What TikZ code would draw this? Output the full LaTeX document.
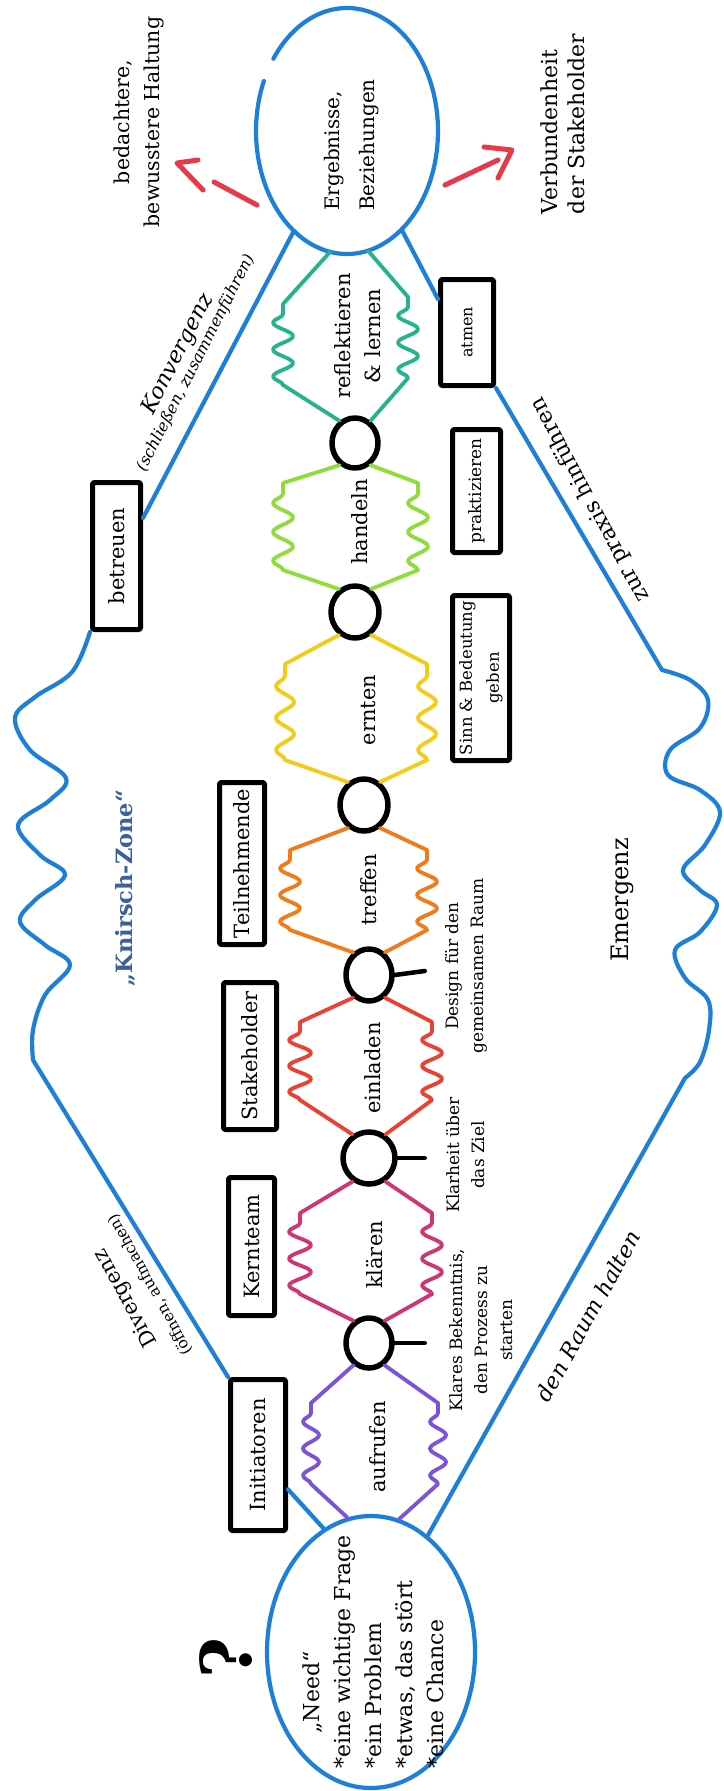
\documentclass[tikz,border=0pt]{standalone}
\usepackage{fontspec}
\setmainfont{DejaVu Serif}
\usetikzlibrary{shapes.geometric,decorations.pathmorphing,calc}
\definecolor{penblue}{HTML}{1E7FD8}
\definecolor{zoneblue}{HTML}{3D5F9C}
\definecolor{cpurple}{HTML}{7B52D9}
\definecolor{cmagenta}{HTML}{CE3572}
\definecolor{cred}{HTML}{EA4130}
\definecolor{corange}{HTML}{F27A18}
\definecolor{cyellow}{HTML}{F4CB17}
\definecolor{cgreen}{HTML}{8FDC3A}
\definecolor{cteal}{HTML}{27B28F}
\definecolor{arrowred}{HTML}{E8394A}
\newcommand{\fsz}[2]{\fontsize{#1}{#2}\selectfont}
\begin{document}
\begin{tikzpicture}[x=1pt,y=-1pt,line cap=round,line join=round,
  pen/.style={draw=penblue,line width=4.2pt},
  box/.style={draw=black,line width=5pt,rounded corners=1.5pt,inner sep=0pt},
  ring/.style={ellipse,draw=black,line width=5.5pt,inner sep=0pt},
  wave/.style={draw=#1,line width=3.8pt},
  sq/.style 2 args={decoration={snake,amplitude=#1,segment length=#2}},
  up/.style={rotate=90,inner sep=0pt},
  tick/.style={draw=black,line width=4.5pt},
  redpen/.style={draw=arrowred,line width=5pt},
  font=\fsz{21}{25}]
\fill[white] (0,0) rectangle (723,1791);
\useasboundingbox (0,0) rectangle (723,1791);

% ---------- end points of the process ----------
\node[ellipse,minimum width=182pt,minimum height=246pt,inner sep=0pt] (out) at (347,131) {};
\draw[pen] plot[domain=216:564,samples=150,variable=\t] ({347+91*cos(\t)},{131+123*sin(\t)});
\node[up,align=left,font=\fsz{20}{35}] (outtxt) at (352,145) {Ergebnisse,\\Beziehungen};

\node[ellipse,draw=penblue,line width=4.2pt,minimum width=208pt,minimum height=272pt,inner sep=0pt] (need) at (371,1652) {};
\node[up,align=left,font=\fsz{22}{31}] (needtxt) at (373,1652)
  {\hspace*{1.6em}„Need“\\{*}eine wichtige Frage\\{*}ein Problem\\{*}etwas, das stört\\{*}eine Chance};
\node[up,font=\bfseries\fsz{70}{70}] (q) at (226,1658) {?};

% ---------- outcomes ----------
\node[up,align=center,font=\fsz{20.5}{30}] (haltung) at (139,122) {bedachtere,\\bewusstere Haltung};
\node[up,align=left,font=\fsz{22}{27}] (verb) at (563,124) {Verbundenheit\\der Stakeholder};
\coordinate (latail) at (257,205);
\coordinate (la1) at (214,182);
\coordinate (la2) at (203,190);
\coordinate (latip) at (177,163);
\coordinate (la3) at (198,160);
\draw[redpen] (latail) -- (la1);
\draw[redpen] (la2) -- (latip) -- (la3);
\coordinate (ratail) at (445,185);
\coordinate (ra1) at (498,160);
\coordinate (ra2) at (484,147);
\coordinate (ratip) at (512,150);
\coordinate (ra3) at (498,178);
\draw[redpen] (ratail) -- (ra1);
\draw[redpen] (ra2) -- (ratip) -- (ra3);

% ---------- stations ----------
\node[ring,minimum width=46pt,minimum height=50pt] (c1) at (369,1343) {};
\node[ring,minimum width=52pt,minimum height=52pt] (c2) at (369,1158) {};
\node[ring,minimum width=46pt,minimum height=52pt] (c3) at (369,975) {};
\node[ring,minimum width=48pt,minimum height=52pt] (c4) at (364,805) {};
\node[ring,minimum width=48pt,minimum height=52pt] (c5) at (355,612) {};
\node[ring,minimum width=46pt,minimum height=50pt] (c6) at (355,443) {};
\coordinate (t1) at ($(c1.east)+(30,0)$);
\coordinate (t2) at ($(c2.east)+(27,0)$);
\coordinate (t3) at ($(c3.east)+(30,-4)$);
\draw[tick] (c1.east) -- (t1);
\draw[tick] (c2.east) -- (t2);
\draw[tick] (c3.east) -- (t3);

% ---------- wavy phases ----------
\draw[wave=cpurple] (need.100) -- (311,1484) decorate[sq={8pt}{27pt}]{-- (311,1403)} -- (c1.235);
\draw[wave=cpurple] (need.78) -- (438,1484) decorate[sq={8pt}{27pt}]{-- (438,1403)} -- (c1.305);
\draw[wave=cmagenta] (c1.125) -- (300,1294) decorate[sq={11pt}{27pt}]{-- (300,1213)} -- (c2.235);
\draw[wave=cmagenta] (c1.55) -- (432,1294) decorate[sq={10pt}{27pt}]{-- (432,1213)} -- (c2.305);
\draw[wave=cred] (c2.125) -- (300,1100) decorate[sq={11pt}{26pt}]{-- (300,1022)} -- (c3.235);
\draw[wave=cred] (c2.55) -- (432,1100) decorate[sq={10pt}{26pt}]{-- (432,1022)} -- (c3.305);
\draw[wave=corange] (c3.125) -- (290,930) decorate[sq={10pt}{26.7pt}]{-- (290,850)} -- (c4.235);
\draw[wave=corange] (c3.55) -- (427,930) decorate[sq={10pt}{26.7pt}]{-- (427,850)} -- (c4.305);
\draw[wave=cyellow] (c4.125) -- (285,760) decorate[sq={9pt}{32pt}]{-- (285,664)} -- (c5.235);
\draw[wave=cyellow] (c4.55) -- (427,760) decorate[sq={9pt}{32pt}]{-- (427,664)} -- (c5.305);
\draw[wave=cgreen] (c5.125) -- (283,570) decorate[sq={10pt}{29pt}]{-- (283,483)} -- (c6.235);
\draw[wave=cgreen] (c5.55) -- (418,570) decorate[sq={10pt}{29pt}]{-- (418,483)} -- (c6.305);
\draw[wave=cteal] (c6.125) -- (283,385) decorate[sq={10pt}{27pt}]{-- (283,304)} -- (out.262);
\draw[wave=cteal] (c6.55) -- (408,378) decorate[sq={10pt}{27pt}]{-- (408,297)} -- (out.280);

\node[up] (l1) at (378,1447) {aufrufen};
\node[up] (l2) at (375,1255) {klären};
\node[up] (l3) at (373,1068) {einladen};
\node[up] (l4) at (369,890) {treffen};
\node[up] (l5) at (369,710) {ernten};
\node[up] (l6) at (360,522) {handeln};
\node[up,align=center,font=\fsz{21}{30}] (l7) at (358,336) {reflektieren\\\& lernen};

% ---------- roles ----------
\node[box,minimum width=55pt,minimum height=151pt,label={[up]center:Initiatoren}] (init) at (258,1455) {};
\node[box,minimum width=46pt,minimum height=138pt,label={[up]center:Kernteam}] (kern) at (251.5,1246.5) {};
\node[box,minimum width=53pt,minimum height=147pt,label={[up]center:Stakeholder}] (stake) at (250,1056) {};
\node[box,minimum width=45pt,minimum height=162pt,label={[up]center:Teilnehmende}] (teil) at (242,863.5) {};
\node[box,minimum width=48pt,minimum height=147pt,label={[up]center:betreuen}] (betreuen) at (116.5,556) {};

% ---------- practice ----------
\node[box,minimum width=53pt,minimum height=106pt,label={[up,font=\fsz{16}{20}]center:atmen}] (atmen) at (467,332.5) {};
\node[box,minimum width=48pt,minimum height=123pt,label={[up,font=\fsz{17}{20}]center:praktizieren}] (prakt) at (476.5,491) {};
\node[box,minimum width=57pt,minimum height=165pt,label={[up,align=center,font=\fsz{16.5}{27}]center:{Sinn \& Bedeutung\\geben}}] (sinn) at (481,678) {};

\node[up,align=center,font=\fsz{17}{25}] (bekennt) at (481,1330) {Klares Bekenntnis,\\den Prozess zu\\starten};
\node[up,align=center,font=\fsz{17}{25}] (klarheit) at (466,1155) {Klarheit über\\das Ziel};
\node[up,align=center,font=\fsz{17}{25}] (design) at (466,966) {Design für den\\gemeinsamen Raum};

% ---------- holding space ----------
\draw[pen] (need.111) -- ($(init.north east)!0.72!(init.south east)$);
\draw[pen] plot[smooth,tension=0.6] coordinates {(betreuen.south west) (72,672) (35,697) (15,718) (30,750) (66,778) (50,800) (18,825) (40,855) (65,875) (35,900) (20,922) (45,945) (70,965) (45,995) (33,1030) (33,1060)} -- (init.north west);
\draw[pen] (out.242) -- ($(betreuen.north east)!0.25!(betreuen.south east)$);
\draw[pen] (out.299) -- ($(atmen.north west)!0.2!(atmen.south west)$);
\draw[pen] (atmen.south east) -- plot[smooth,tension=0.6] coordinates {(662,670) (690,680) (708,700) (700,728) (670,750) (668,775) (700,790) (720,812) (705,845) (683,870) (700,890) (717,905) (700,932) (675,950) (685,978) (708,1000) (709,1030) (700,1062) (685,1078)} -- (need.64);

\node[up,font=\bfseries\fsz{22.5}{26},text=zoneblue] (knirsch) at (125,888) {„Knirsch-Zone“};
\node[up,font=\fsz{24}{28}] (emerg) at (622,900) {Emergenz};
\node[rotate=118,inner sep=0pt,font=\fsz{22}{26}] (praxis) at (590,500) {zur praxis hinführen};
\node[rotate=61,inner sep=0pt,font=\itshape\fsz{22}{26}] (raum) at (588,1316) {den Raum halten};
\node[rotate=63,inner sep=0pt,align=center,font=\itshape] (konv) at (186,358)
  {{\fsz{22}{26}Konvergenz}\\{\fsz{16}{20}(schließen, zusammenführen)}};
\node[rotate=119,inner sep=0pt,align=center] (div) at (137,1292)
  {{\fsz{21}{25}Divergenz}\\[2pt]{\fsz{15.5}{19}(öffnen, aufmachen)}};
\end{tikzpicture}
\end{document}
